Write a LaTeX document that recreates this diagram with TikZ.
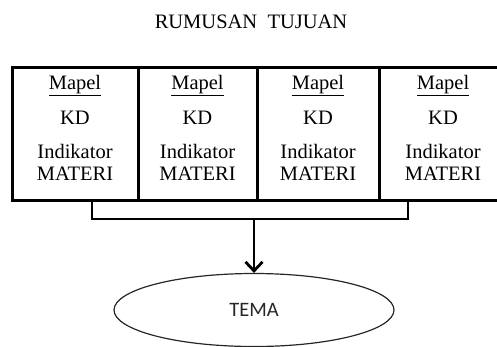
\documentclass[tikz,border=0pt]{standalone}
\usepackage{fontspec}
\setmainfont{Liberation Serif}
\newfontfamily\temafont{Carlito}
\usetikzlibrary{shapes.geometric,arrows.meta}
\begin{document}
\begin{tikzpicture}[x=1pt,y=-1pt,
  txt/.style={font=\fontsize{20.5}{21}\selectfont, inner sep=0pt, anchor=base, text=black},
  cell/.style={draw=black, line width=3pt, minimum height=133pt, inner sep=0pt},
  link/.style={draw=black, line width=2.8pt},
  topic/.style={draw=black!85, line width=1.2pt, ellipse, minimum width=280pt, minimum height=73pt,
    font=\temafont\fontsize{20.5}{21}\selectfont, text=black!85}]
\useasboundingbox (0,0) rectangle (497,346);
\clip (0,0) rectangle (497,346);

% heading
\node[txt] (title) at (251,28) {RUMUSAN\ \ TUJUAN};

% four subject cells
\node[cell, minimum width=126pt] (c1) at (75,133.5) {};
\node[cell, minimum width=119pt] (c2) at (197.5,133.5) {};
\node[cell, minimum width=122pt] (c3) at (318,133.5) {};
\node[cell, minimum width=128pt] (c4) at (443,133.5) {};

\foreach \c/\x in {c1/75, c2/197.5, c3/318, c4/443}{
  \node[txt] (\c-mapel) at (\x,89) {\underline{Mapel}};
  \node[txt] (\c-kd)    at (\x,124) {KD};
  \node[txt] (\c-ind)   at (\x,158) {Indikator};
  \node[txt] (\c-mat)   at (\x,180) {MATERI};
}

% theme ellipse
\node[topic] (tema) at (254,310) {TEMA};

% bracket joining the cells
\coordinate (bl) at (92,200);
\coordinate (br) at (408,200);
\coordinate (bm) at (254,219);
\draw[link, line join=miter] (bl) |- (bm) -| (br);
\draw[link, -{Straight Barb[length=9pt,width=17pt]}] (bm) -- (tema.north);
\end{tikzpicture}
\end{document}
